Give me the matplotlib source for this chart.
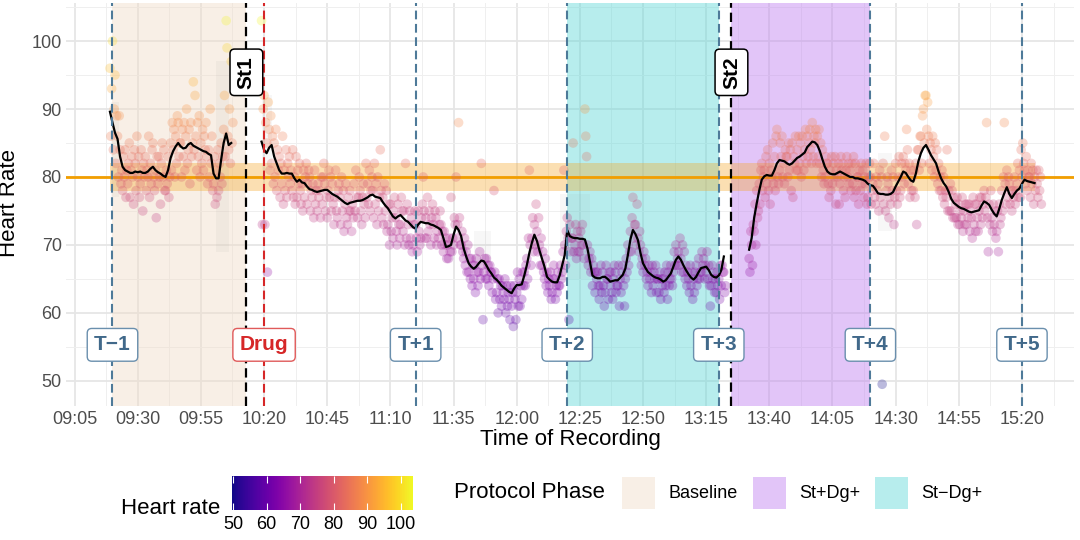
import numpy as np
import matplotlib.pyplot as plt
from matplotlib.colors import Normalize
from matplotlib.cm import ScalarMappable
from matplotlib.patches import Rectangle

plt.rcParams['font.family'] = ['Liberation Sans', 'DejaVu Sans']

# all times are minutes after 09:05
T0_HOUR, T0_MIN = 9, 5

# protocol markers
marker_times = [15, 135, 195, 255, 315, 375]
marker_labels = ['T\u22121', 'T+1', 'T+2', 'T+3', 'T+4', 'T+5']
drug_time = 75
stim_times = [68, 260]
stim_labels = ['St1', 'St2']

# protocol phases
phase_names = ['Baseline', 'St+Dg+', 'St\u2212Dg+']
phase_start = [15, 260, 195]
phase_end = [68, 315, 255]
phase_colors = ['#F0DCC8', '#C080F0', '#60D8D8']

# reference heart rate and band
ref_hr = 80
ref_lo, ref_hi = 78, 82
ref_t = [14, 380]

# rolling mean of heart rate (one value per minute), three recorded blocks
roll_a_start = 14
roll_a = [89.6, 88.0, 86.5, 85.6, 83.0, 81.5, 81.0, 80.8, 80.6, 80.6,
          80.8, 80.7, 80.8, 80.6, 80.6, 80.8, 81.2, 81.5, 81.0, 80.7,
          80.5, 80.2, 80.0, 81.0, 82.8, 83.8, 84.5, 85.0, 84.5, 84.2,
          84.3, 84.8, 85.0, 84.6, 84.4, 84.2, 84.0, 83.8, 83.7, 83.4,
          83.2, 80.5, 79.8, 79.8, 82.5, 85.0, 86.4, 84.7, 85.0]

roll_b_start = 74
roll_b = [85.2, 84.0, 83.5, 84.3, 84.7, 83.0, 82.0, 81.0, 80.5, 80.5,
          80.6, 80.5, 80.5, 79.8, 79.3, 79.6, 79.2, 79.1, 78.6, 78.2,
          78.1, 77.9, 77.8, 77.9, 78.0, 78.1, 78.1, 77.8, 77.5, 77.3,
          77.1, 76.8, 76.5, 76.2, 76.0, 76.2, 76.3, 76.4, 76.5, 76.5,
          76.6, 76.8, 77.0, 77.3, 77.4, 77.1, 77.0, 76.9, 76.3, 75.8,
          75.4, 74.8, 74.2, 73.9, 74.2, 74.4, 74.0, 73.6, 73.4, 73.0,
          72.6, 72.4, 73.0, 73.4, 73.3, 73.2, 73.2, 73.0, 72.9, 72.7,
          72.5, 72.2, 71.0, 69.7, 69.8, 70.0, 71.5, 72.7, 72.2, 71.3,
          69.5, 68.3, 67.3, 66.8, 66.5, 66.8, 67.3, 67.7, 67.6, 67.0,
          66.3, 65.8, 65.2, 64.9, 64.5, 64.0, 63.7, 63.4, 63.1, 62.9,
          63.6, 64.1, 64.1, 64.2, 65.5, 67.0, 68.8, 70.3, 71.5, 70.6,
          69.2, 68.0, 66.8, 65.3, 64.9, 64.6, 64.5, 64.5, 65.5, 67.0,
          68.5, 72.2, 71.3, 71.1, 71.0, 71.0, 70.9, 70.9, 70.8, 69.5,
          67.5, 65.5, 65.2, 65.1, 65.1, 65.3, 65.3, 65.0, 64.6, 64.7,
          64.8, 64.8, 65.2, 65.6, 66.5, 68.5, 70.8, 72.2, 71.6, 70.7,
          68.8, 67.3, 66.6, 66.0, 65.7, 65.4, 65.2, 65.1, 64.9, 64.6,
          64.8, 65.3, 65.8, 66.8, 67.8, 68.3, 67.8, 67.0, 66.3, 65.7,
          65.2, 64.9, 65.3, 66.0, 66.6, 66.7, 66.8, 66.3, 65.6, 65.3,
          65.2, 65.5, 66.3, 68.3]

roll_c_start = 267
roll_c = [69.3, 71.0, 74.0, 76.1, 78.0, 79.6, 80.1, 80.3, 80.2, 80.2,
          81.0, 82.0, 82.5, 82.4, 82.3, 82.0, 81.8, 82.0, 82.4, 82.8,
          83.0, 83.3, 83.6, 84.4, 84.8, 85.2, 85.1, 84.7, 83.8, 82.6,
          81.5, 80.8, 80.5, 80.4, 80.4, 80.6, 80.8, 80.6, 80.4, 80.2,
          80.0, 80.0, 79.8, 79.8, 79.7, 79.6, 79.4, 79.0, 78.8, 78.7,
          78.2, 77.6, 77.5, 77.5, 77.4, 77.4, 77.5, 77.8, 78.6, 79.3,
          80.0, 80.8, 80.6, 80.0, 79.5, 79.3, 80.5, 82.3, 83.5, 84.3,
          84.7, 84.0, 83.2, 82.6, 82.0, 80.8, 79.8, 79.1, 78.6, 77.8,
          76.8, 76.2, 75.9, 75.6, 75.4, 75.3, 75.1, 74.9, 74.8, 74.9,
          75.0, 75.1, 75.8, 76.4, 76.2, 75.9, 75.2, 74.6, 74.2, 75.3,
          76.6, 77.6, 78.5, 77.5, 76.9, 77.5, 78.0, 78.3, 79.0, 79.6,
          79.4, 79.3, 79.2, 79.1]

# raw readings, three per minute (every 20 s), five minutes per row
hr_a_start = 14
hr_a = """
96 86 93  100 84 90  95 82 89  86 80 89  84 79 81
78 83 80  84 77 81  79 82 85  77 81 83  80 76 84
82 78 86  80 83 77  79 84 81  75 82 80  83 78 81
80 86 77  82 79 84  85 80 78  81 74 83  79 83 80
76 82 85  80 84 78  78 81 79  83 77 80  85 81 88
84 87 80  86 82 89  88 83 85  85 80 87  83 88 81
86 90 82  84 87 79  88 83 85  94 84 92  86 81 88
83 89 80  85 82 87  81 86 84  88 83 79  84 80 90
82 86 78  79 83 76  81 77 84  78 82 80  85 79 83
87 92 83  103 99 86  84 90 82  97 85 88
"""

hr_b_start = 74
hr_b = """
103 73 90  92 73 88  85 66 91  87 81 89  82 86 79
85 80 87  78 84 81  83 77 82  79 86 76  81 78 84
77 82 80  83 79 81  78 84 77  80 76 83  77 81 79
82 78 76  79 75 81  77 80 82  76 79 81  80 75 78
77 79 74  81 76 78  75 79 77  78 74 80  76 80 82
79 75 77  74 78 81  77 80 75  79 76 73  77 81 75
74 78 79  77 73 80  75 78 72  76 79 74  73 77 75
78 75 72  76 74 79  75 81 77  74 77 80  78 75 73
77 79 76  74 82 77  79 76 81  75 78 80  78 74 82
76 79 73  80 75 77  84 78 74  77 73 79  75 78 72
73 76 70  76 72 74  71 75 77  74 72 70  76 73 71
73 77 75  72 75 70  82 71 76  73 70 75  71 74 69
70 73 75  73 71 69  75 72 70  71 74 76  80 75 71
74 71 77  72 75 73  70 74 76  73 71 75  74 70 72
71 73 75  73 70 72  69 72 70  71 68 70  68 71 69
77 69 71  70 74 73  80 71 73  88 74 70  70 72 69
68 71 67  69 66 70  66 68 65  68 64 67  65 67 63
68 66 64  66 69 65  82 67 59  66 68 65  68 65 67
64 67 66  66 63 65  78 66 62  63 65 60  65 62 64
61 64 63  62 65 60  64 61 63  62 59 64  61 63 58
64 62 59  63 66 61  65 61 64  62 66 64  66 64 67
68 65 71  81 70 67  71 74 69  73 70 76  72 69 74
70 67 71  67 69 66  65 68 64  66 63 65  64 66 62
63 65 67  65 62 64  63 66 64  64 67 65  66 69 81
70 67 72  74 71 59  73 69 71  71 85 69  70 73 68
72 69 71  69 72 70  73 70 68  90 86 83  70 67 68
69 66 68  64 67 66  63 66 65  66 64 62  64 67 63
66 64 61  63 67 65  65 62 66  64 66 63  62 65 67
66 63 64  64 67 61  65 63 66  67 64 61  65 68 66
70 67 69  72 69 74  77 71 73  73 70 76  71 69 72
70 67 68  66 69 67  68 65 66  64 67 65  66 63 67
64 66 65  67 63 65  65 63 66  62 65 64  65 63 66
64 67 62  66 64 65  67 65 64  66 69 67  70 67 68
69 67 71  68 66 70  66 69 65  67 64 66  65 63 67
64 66 62  65 63 66  67 64 65  68 65 66  66 69 67
68 65 67  66 69 65  67 64 61  64 67 65  66 63 65
63 66 64  65 62 67  64 67 66  66 63 64
"""

hr_c_start = 267
hr_c = """
68 66 72  70 67 73  72 76 70  78 74 75  79 76 81
82 78 80  81 77 83  79 84 78  82 76 81  80 85 79
83 78 86  87 80 79  81 85 83  86 80 82  79 84 83
83 80 85  81 84 78  85 77 83  82 86 81  84 81 86
82 85 80  86 83 81  84 87 82  86 83 85  87 84 82
88 83 86  85 87 82  86 83 87  82 85 80  84 81 79
80 83 82  82 79 77  81 78 83  79 82 80  83 76 81
80 82 76  79 83 81  82 78 80  77 81 83  80 82 79
81 78 82  79 83 77  82 78 80  80 76 81  78 82 79
81 77 80  79 82 76  77 80 82  80 76 78  79 82 77
76 80 78  79 75 81  77 80 49.5  82 76 86  75 78 80
79 74 77  76 81 78  80 73 77  82 78 76  80 83 77
78 82 80  83 79 82  81 87 84  79 82 77  81 78 80
78 81 77  82 73 84  84 81 86  86 82 89  90 85 92
92 87 91  86 82 85  84 81 86  83 80 85  81 84 79
82 78 80  78 81 77  80 76 78  77 84 75  78 75 79
75 78 74  77 74 76  74 77 73  76 73 75  74 77 72
75 73 76  73 76 74  76 72 75  74 71 77  73 76 72
76 74 72  75 77 73  77 74 76  78 75 77  88 74 69
76 73 78  74 72 76  73 75 71  72 75 69  76 73 74
78 75 80  88 79 76  81 77 80  79 76 78  75 78 77
80 76 78  79 82 77  81 77 84  80 85 82  81 79 83
78 81 80  80 77 82  79 81 76  80 78 81  79 77 81
78 80 76
"""

# spread of the rolling estimate where it widens
rib_t0 = [14.5, 56, 74, 158, 192, 318]
rib_t1 = [17.5, 61, 78, 165, 204, 323.5]
rib_lo = [77, 69, 81, 67, 65, 72]
rib_hi = [91, 97, 92, 72, 77.5, 83.5]

hr_min, hr_max = 49.7, 103.6
x_ticks = list(range(0, 376, 25))
y_ticks = [50, 60, 70, 80, 90, 100]

W, H = 1080, 540


def fx(px):
    return px / W


def fy(py):
    return 1 - py / H


def clock(m):
    total = T0_HOUR * 60 + T0_MIN + m
    return f"{total // 60:02d}:{total % 60:02d}"


def readings(block, start):
    vals = np.array(block.split(), dtype=float)
    times = start + np.arange(len(vals)) / 3
    return times, vals


fig = plt.figure(figsize=(10.8, 5.4), dpi=100)
ax = fig.add_axes([fx(66), fy(406), fx(1008), 403 / H])

# grid
ax.set_axisbelow(True)
ax.set_xticks(x_ticks)
ax.set_xticks([t + 12.5 for t in x_ticks], minor=True)
ax.set_yticks(y_ticks)
ax.set_yticks([y + 5 for y in y_ticks], minor=True)
ax.grid(which='major', color='#E6E6E6', lw=1.3, zorder=0)
ax.grid(which='minor', color='#EFEFEF', lw=0.7, zorder=0)
for s in ax.spines.values():
    s.set_visible(False)

# protocol phases
for t0, t1, c in zip(phase_start, phase_end, phase_colors):
    ax.axvspan(t0, t1, color=c, alpha=0.45, lw=0, zorder=1)

# reference band and line
ax.fill_between(ref_t, [ref_lo] * 2, [ref_hi] * 2, color='#F5A623', alpha=0.35, lw=0, zorder=2)
ax.axhline(ref_hr, color='#F29E00', lw=2, zorder=2.2)

# rolling spread
for t0, t1, lo, hi in zip(rib_t0, rib_t1, rib_lo, rib_hi):
    ax.fill_between([t0, t1], [lo, lo], [hi, hi], color='#999999', alpha=0.08, lw=0, zorder=2.5)

# raw readings
norm = Normalize(hr_min, hr_max)
for block, start in [(hr_a, hr_a_start), (hr_b, hr_b_start), (hr_c, hr_c_start)]:
    t, v = readings(block, start)
    ax.scatter(t, v, c=v, cmap='plasma', norm=norm, s=48, alpha=0.28, linewidths=0, zorder=3)

# rolling mean
for start, vals in [(roll_a_start, roll_a), (roll_b_start, roll_b), (roll_c_start, roll_c)]:
    ax.plot(start + np.arange(len(vals)), vals, color='black', lw=1.6, zorder=4)

# event lines
dash = (0, (4.2, 2.2))
for t in marker_times:
    ax.axvline(t, color='#4E7A99', lw=1.5, ls=dash, zorder=5)
ax.axvline(drug_time, color='#D62728', lw=1.5, ls=dash, zorder=5)
for t in stim_times:
    ax.axvline(t, color='black', lw=1.6, ls=dash, zorder=5)

# labels
box = 'round,pad=0.33,rounding_size=0.22'
for t, lab in zip(marker_times, marker_labels):
    ax.text(t, 55.3, lab, ha='center', va='center', fontsize=15, fontweight='bold',
            color='#41698A', zorder=6,
            bbox=dict(boxstyle=box, fc='white', ec='#6A8FAD', lw=1))
ax.text(drug_time, 55.3, 'Drug', ha='center', va='center', fontsize=15, fontweight='bold',
        color='#D62728', zorder=6,
        bbox=dict(boxstyle=box, fc='white', ec='#E05A5A', lw=1))
for t, lab in zip(stim_times, stim_labels):
    ax.text(t, 95.4, lab, ha='center', va='center', rotation=90, fontsize=15,
            fontweight='bold', color='black', zorder=6,
            bbox=dict(boxstyle=box, fc='white', ec='black', lw=1.1))

ax.set_xlim(-3.4, 395.6)
ax.set_ylim(46.3, 105.6)
ax.set_xticklabels([clock(t) for t in x_ticks])
ax.tick_params(which='both', length=0, labelsize=13, labelcolor='#4D4D4D')
ax.tick_params(axis='x', pad=3.5)
ax.tick_params(axis='y', pad=3)

fig.text(fx(570), fy(439), 'Time of Recording', ha='center', va='center', fontsize=16)
fig.text(fx(10), fy(203), 'Heart Rate', ha='center', va='center', rotation=90, fontsize=16)

# colour legend
fig.text(fx(220), fy(508), 'Heart rate', ha='right', va='center', fontsize=16)
cax = fig.add_axes([fx(232), fy(510), fx(181), 34 / H])
sm = ScalarMappable(norm=norm, cmap='plasma')
cb = fig.colorbar(sm, cax=cax, orientation='horizontal', ticks=y_ticks)
cb.outline.set_visible(False)
cax.xaxis.set_ticks_position('both')
cax.tick_params(axis='x', which='both', direction='in', length=5, width=0.8,
                color='white', labelsize=13, labelcolor='black', pad=4)

# phase legend
fig.text(fx(454), fy(493), 'Protocol Phase', ha='left', va='center', fontsize=16)
key_x = [622, 753, 875]
label_x = [668, 799, 921]
for kx, lx, name, c in zip(key_x, label_x, phase_names, phase_colors):
    fig.patches.append(Rectangle((fx(kx), fy(509)), fx(33), 32 / H, transform=fig.transFigure,
                                 facecolor=c, alpha=0.45, lw=0))
    fig.text(fx(lx), fy(493), name, ha='left', va='center', fontsize=13)

fig.savefig('out.png', dpi=100)
